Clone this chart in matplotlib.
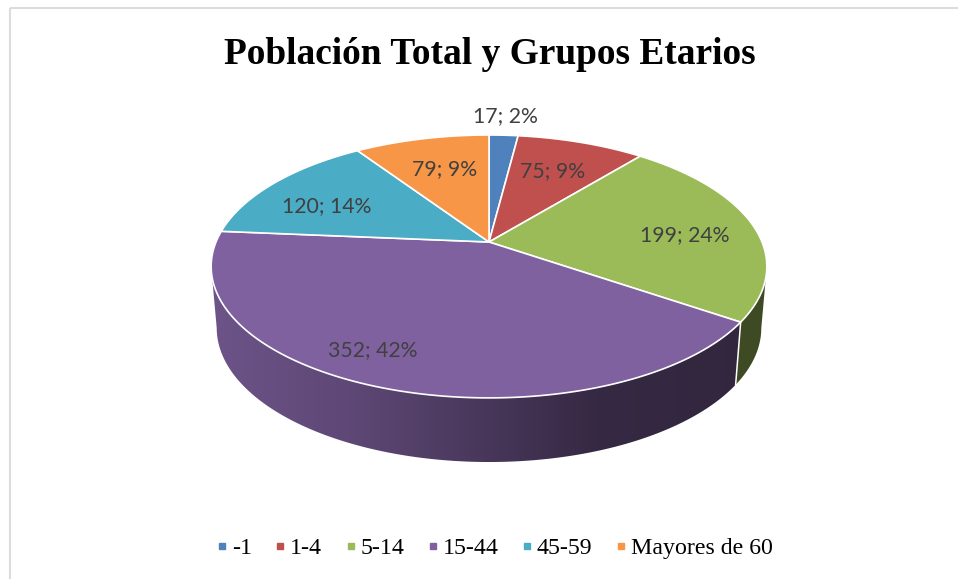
import numpy as np
import matplotlib
matplotlib.use("Agg")
import matplotlib.pyplot as plt
from matplotlib.colors import to_rgb
from matplotlib.lines import Line2D
from matplotlib.patches import Polygon, Rectangle

# Datos
grupos = ["-1", "1-4", "5-14", "15-44", "45-59", "Mayores de 60"]
poblacion = [17, 75, 199, 352, 120, 79]
titulo = "Población Total y Grupos Etarios"

# Estilo
colores = ["#4f81bd", "#c0504d", "#9bbb59", "#7f619f", "#4bacc6", "#f79646"]
pos_etiquetas = [(505, 116), (553, 171), (685, 235), (373, 350), (327, 206), (445, 169)]

# Geometria de la torta en perspectiva (pixeles)
cx, cy = 489, 242
k, a, c = 273, 126.9, 0.186
alto_x, alto_s, alto_d = 0.98, 1.02, 61


def arriba(t):
    den = 1 + c * np.cos(t)
    return cx + k * np.sin(t) / den, cy - a * np.cos(t) / den


def abajo(t):
    den = 1 + c * np.cos(t)
    return (cx + alto_x * k * np.sin(t) / den,
            cy - alto_s * a * np.cos(t) / den + alto_d)


def sombra(x):
    return np.interp(x, [212, 350, 490, 600, 735], [0.86, 0.74, 0.56, 0.42, 0.40])


fig = plt.figure(figsize=(9.58, 5.79), dpi=100)
ax = fig.add_axes([0, 0, 1, 1])
ax.axis("off")

# marco
ax.add_patch(Rectangle((10.3, 7.8), 960, 600, fill=False, ec="#dcdcdc", lw=1.5))

total = sum(poblacion)
limites = np.radians(np.cumsum([0] + poblacion) / total * 360)

# lados, con degradado horizontal recortado a la forma de cada porcion
# el lado visible va entre los dos extremos horizontales de la elipse
t_ext = np.arccos(-c)
xs = np.arange(958)
for i in range(len(poblacion)):
    ini, fin = max(limites[i], t_ext), min(limites[i + 1], 2 * np.pi - t_ext)
    if fin <= ini:
        continue
    t = np.linspace(ini, fin, 200)
    xa, ya = arriba(t)
    xb, yb = abajo(t)
    forma = Polygon(np.c_[np.r_[xa, xb[::-1]], np.r_[ya, yb[::-1]]], transform=ax.transData)
    grad = np.outer(sombra(xs), to_rgb(colores[i]))[np.newaxis, :, :]
    im = ax.imshow(grad, extent=(0, 958, 579, 0), aspect="auto", zorder=2, interpolation="bilinear")
    im.set_clip_path(forma)

ax.set_xlim(0, 958)
ax.set_ylim(579, 0)

# separacion blanca en el lado
for li in limites[1:-1]:
    if t_ext < li < 2 * np.pi - t_ext:
        xa, ya = arriba(li)
        xb, yb = abajo(li)
        ax.plot([xa, xb], [ya, yb], color="white", lw=1.1, zorder=3)

# cara superior
for i in range(len(poblacion)):
    t = np.linspace(limites[i], limites[i + 1], 120)
    x, y = arriba(t)
    ax.fill(np.r_[cx, x], np.r_[cy, y], fc=colores[i], ec="white", lw=1.2,
            joinstyle="round", zorder=4)

# etiquetas
for v, (xe, ye) in zip(poblacion, pos_etiquetas):
    ax.text(xe, ye, f"{v}; {round(v / total * 100)}%", family="Lato", fontsize=15.3,
            color="#404040", ha="center", va="center", zorder=5)

ax.text(490, 55, titulo, family="Liberation Serif", fontweight="bold", fontsize=26.9,
        color="black", ha="center", va="center")

# leyenda
marcas = [Line2D([], [], ls="none", marker="s", ms=5, color=col, label=g)
          for g, col in zip(grupos, colores)]
ax.legend(handles=marcas, ncol=6, loc="center", bbox_to_anchor=(495.5 / 958, 1 - 548 / 579),
          frameon=False, prop={"family": "Liberation Serif", "size": 17.2},
          handlelength=0.3, handletextpad=0.27, columnspacing=1.03, borderpad=0)

fig.savefig("out.png", dpi=100)
